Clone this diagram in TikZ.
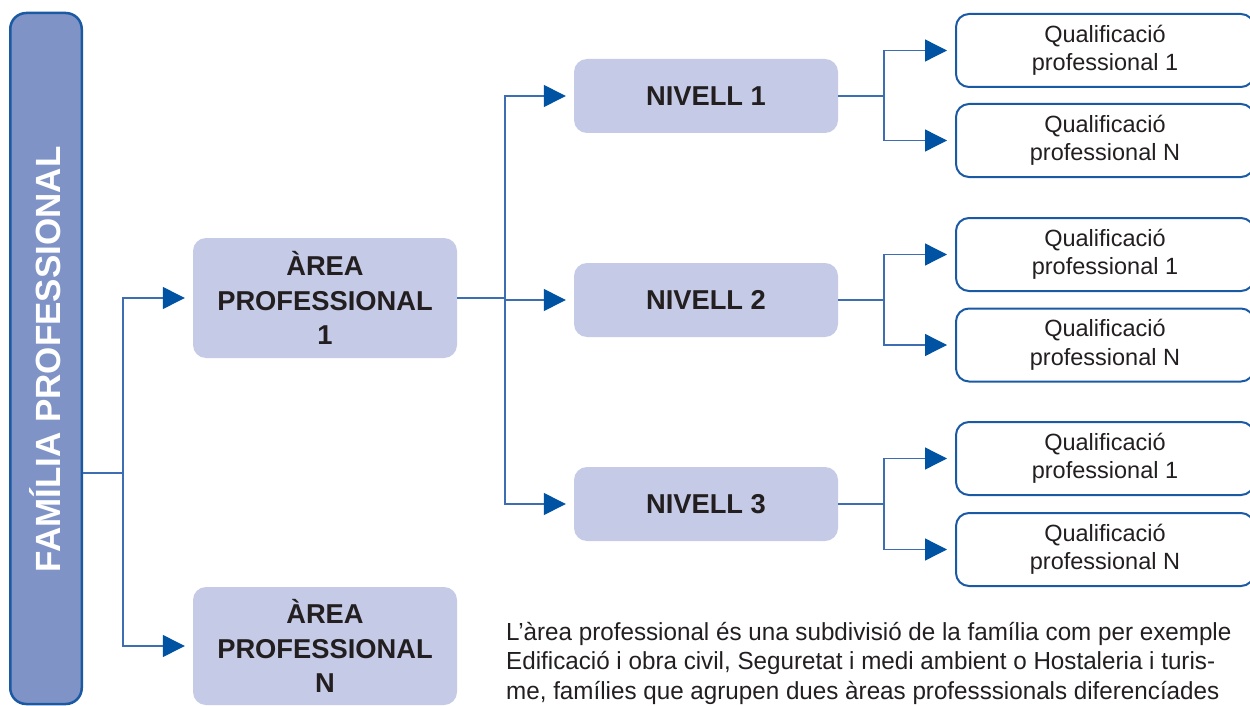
\documentclass[tikz,border=0pt]{standalone}
\usepackage{fontspec}
\setmainfont{Liberation Sans}
\newfontfamily\narrowfont[FakeStretch=0.98]{Liberation Sans}
\usetikzlibrary{arrows.meta}
\definecolor{famfill}{HTML}{7F93C6}
\definecolor{famdraw}{HTML}{1B5AA3}
\definecolor{boxfill}{HTML}{C5CAE6}
\definecolor{linecol}{HTML}{3D6DB3}
\definecolor{arrowcol}{HTML}{0052A3}
\definecolor{qualdraw}{HTML}{1A5AA5}
\definecolor{txt}{HTML}{231F20}
\begin{document}
\begin{tikzpicture}[x=1pt,y=-1pt,
  fambox/.style={draw=famdraw, line width=2.5pt, fill=famfill, rounded corners=16pt,
    minimum width=71.5pt, minimum height=691pt, inner sep=0pt},
  famlabel/.style={rotate=90, anchor=base, text=white, inner sep=0pt,
    font=\bfseries\fontsize{35}{35}\selectfont},
  areabox/.style={fill=boxfill, rounded corners=13pt, minimum width=264pt, inner sep=0pt,
    align=center, font=\bfseries\fontsize{27.3}{34.5}\selectfont, text=txt},
  qualbox/.style={draw=qualdraw, line width=2pt, fill=white, rounded corners=13pt,
    minimum width=298pt, minimum height=73pt, inner sep=0pt, align=center,
    font=\fontsize{23.5}{28.5}\selectfont, text=txt},
  notetext/.style={anchor=north west, inner sep=0pt, align=left, text=txt,
    font=\narrowfont\fontsize{24.7}{29.5}\selectfont},
  link/.style={draw=linecol, line width=1.3pt},
  arr/.style={link, -{Triangle[length=22pt,width=22pt,color=arrowcol]}, shorten >=8pt},
]
\useasboundingbox (0,0) rectangle (1250,706);

% family column
\node[fambox] (fam) at (46,358.5) {};
\node[famlabel] (famtext) at (60.5,359.5) {FAMÍLIA PROFESSIONAL};

% areas
\node[areabox, minimum height=120pt] (a1) at (325,298) {ÀREA\\PROFESSIONAL\\1};
\node[areabox, minimum height=118pt] (aN) at (325,646) {ÀREA\\PROFESSIONAL\\N};

% levels
\node[areabox, minimum height=74pt] (n1) at (706,96) {NIVELL 1};
\node[areabox, minimum height=74pt] (n2) at (706,300) {NIVELL 2};
\node[areabox, minimum height=74pt] (n3) at (706,504) {NIVELL 3};

% qualifications
\node[qualbox] (q11) at (1105,50.5) {Qualificació\\professional 1};
\node[qualbox] (q1N) at (1105,140.5) {Qualificació\\professional N};
\node[qualbox] (q21) at (1105,254.5) {Qualificació\\professional 1};
\node[qualbox] (q2N) at (1105,345) {Qualificació\\professional N};
\node[qualbox] (q31) at (1105,458.5) {Qualificació\\professional 1};
\node[qualbox] (q3N) at (1105,549.5) {Qualificació\\professional N};

% note
\node[notetext] (note) at (506,622) {L’àrea professional és una subdivisió de la família com per exemple\\
Edificació i obra civil, Seguretat i medi ambient o Hostaleria i turis-\\
me, famílies que agrupen dues àreas professsionals diferencíades};

% junctions
\coordinate (j0) at (123,473);
\coordinate (j1) at (505,298);
\coordinate (k1) at (884,96);
\coordinate (k2) at (884,300);
\coordinate (k3) at (884,504);

% connectors
\draw[link] (fam.east |- j0) -- (j0);
\draw[arr] (j0) |- (a1.west);
\draw[arr] (j0) |- (aN.west);

\draw[link] (a1.east) -- (j1);
\draw[arr] (j1) |- (n1.west);
\draw[arr] (j1) |- (n2.west);
\draw[arr] (j1) |- (n3.west);

\draw[link] (n1.east) -- (k1);
\draw[arr] (k1) |- (q11.west);
\draw[arr] (k1) |- (q1N.west);
\draw[link] (n2.east) -- (k2);
\draw[arr] (k2) |- (q21.west);
\draw[arr] (k2) |- (q2N.west);
\draw[link] (n3.east) -- (k3);
\draw[arr] (k3) |- (q31.west);
\draw[arr] (k3) |- (q3N.west);
\end{tikzpicture}
\end{document}
